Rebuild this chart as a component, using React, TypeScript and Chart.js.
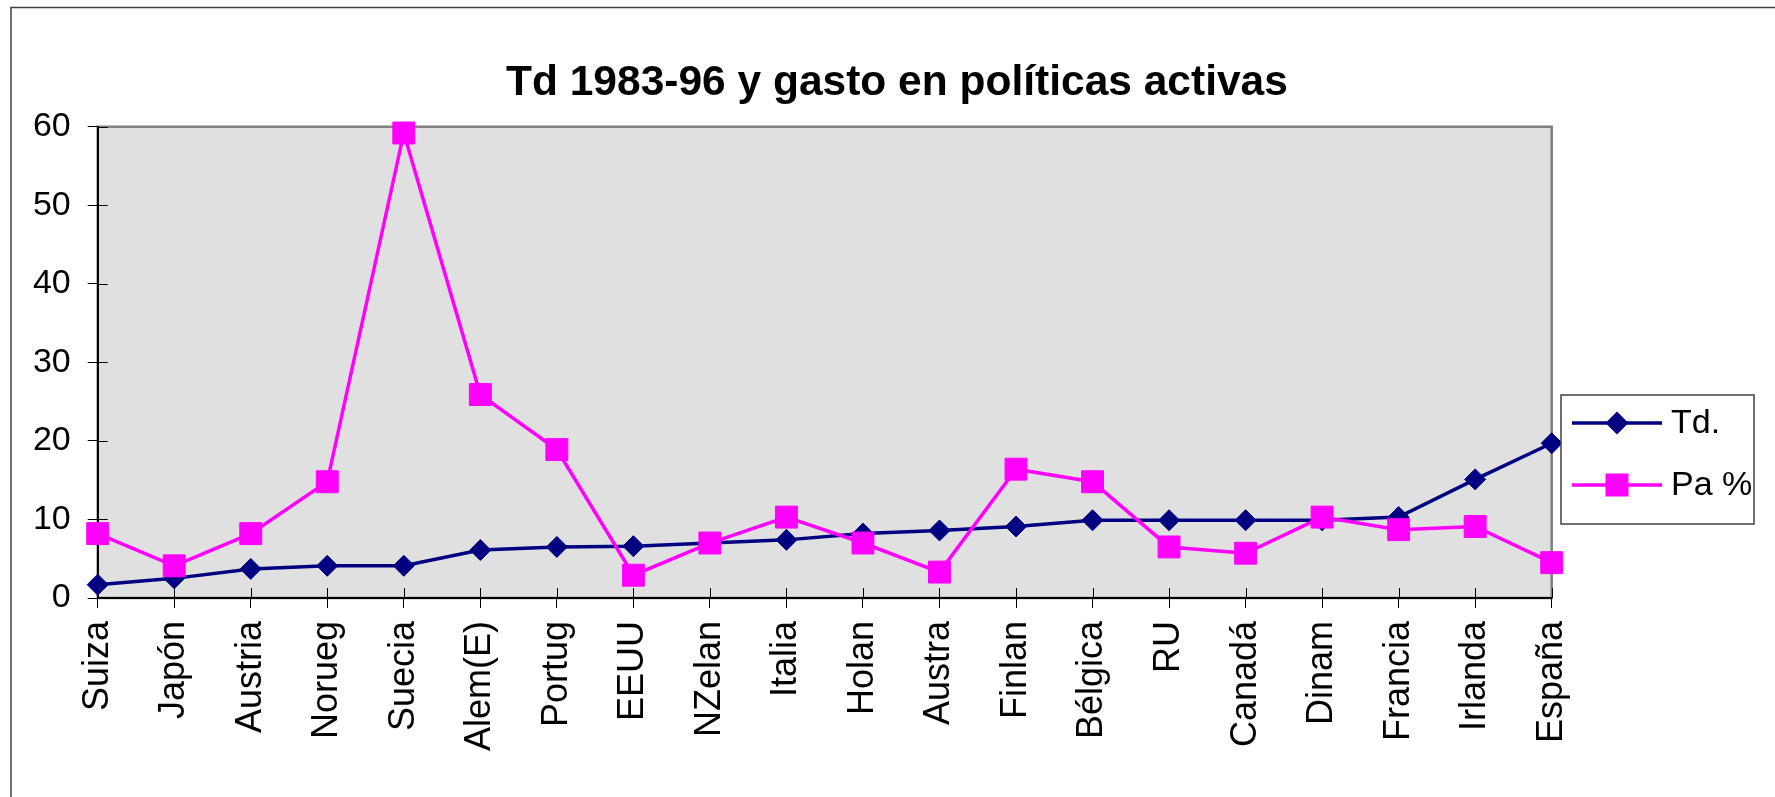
import React, { useEffect, useRef } from 'react';
import { Chart, registerables } from 'chart.js';

Chart.register(...registerables);

const categories = ['Suiza', 'Japón', 'Austria', 'Norueg', 'Suecia', 'Alem(E)', 'Portug', 'EEUU', 'NZelan', 'Italia', 'Holan', 'Austra', 'Finlan', 'Bélgica', 'RU', 'Canadá', 'Dinam', 'Francia', 'Irlanda', 'España'];
const tdValues = [1.7, 2.5, 3.7, 4.1, 4.1, 6.1, 6.5, 6.6, 7.0, 7.4, 8.2, 8.6, 9.1, 9.9, 9.9, 9.9, 9.9, 10.3, 15.1, 19.7];
const paValues = [8.2, 4.1, 8.2, 14.8, 59.2, 25.9, 18.9, 2.9, 7.0, 10.3, 7.0, 3.3, 16.4, 14.8, 6.5, 5.7, 10.3, 8.7, 9.1, 4.5];
const yTickValues = [0, 10, 20, 30, 40, 50, 60];
const seriesLabels = ['Td.', 'Pa %'];
const titleText = 'Td 1983-96 y gasto en políticas activas';

const FONT = '"Liberation Sans", Arial, sans-serif';
const W = 1775;
const H = 797;
const NAVY = '#000080';
const MAGENTA = '#FF00FF';

function drawMarker(ctx: CanvasRenderingContext2D, style: string, x: number, y: number, color: string) {
  ctx.fillStyle = color;
  ctx.beginPath();
  if (style === 'rectRot') {
    const r = 11.5;
    ctx.moveTo(x - r, y);
    ctx.lineTo(x, y - r);
    ctx.lineTo(x + r, y);
    ctx.lineTo(x, y + r);
    ctx.closePath();
  } else {
    const s = 11.5;
    ctx.rect(x - s, y - s, 2 * s, 2 * s);
  }
  ctx.fill();
}

const decorPlugin = {
  id: 'decor',
  beforeDraw(chart: any) {
    const { ctx, chartArea: a } = chart;
    ctx.save();
    ctx.fillStyle = '#ffffff';
    ctx.fillRect(0, 0, chart.width, chart.height);
    // outer frame
    ctx.strokeStyle = '#404040';
    ctx.lineWidth = 1.5;
    ctx.beginPath();
    ctx.moveTo(11, chart.height);
    ctx.lineTo(11, 7.5);
    ctx.lineTo(chart.width, 7.5);
    ctx.stroke();
    // plot background
    ctx.fillStyle = '#E0E0E0';
    ctx.fillRect(a.left, a.top, a.right - a.left, a.bottom - a.top);
    ctx.strokeStyle = '#808080';
    ctx.lineWidth = 2.5;
    ctx.strokeRect(a.left, a.top, a.right - a.left, a.bottom - a.top);
    // title
    ctx.fillStyle = '#000';
    ctx.font = 'bold 42.5px ' + FONT;
    ctx.textAlign = 'left';
    ctx.textBaseline = 'alphabetic';
    ctx.fillText(titleText, 506, 95);
    ctx.restore();
  },
  beforeDatasetsDraw(chart: any) {
    const { ctx, chartArea: a, scales } = chart;
    ctx.save();
    ctx.strokeStyle = '#000';
    ctx.lineWidth = 1;
    ctx.beginPath();
    yTickValues.forEach((v) => {
      const y = Math.round(scales.y.getPixelForValue(v)) + 0.5;
      ctx.moveTo(a.left, y);
      ctx.lineTo(a.left + 10, y);
    });
    categories.forEach((_, i) => {
      const x = Math.round(scales.x.getPixelForValue(i)) + 0.5;
      ctx.moveTo(x, a.bottom);
      ctx.lineTo(x, a.bottom - 10);
    });
    ctx.stroke();
    ctx.restore();
  },
  afterDraw(chart: any) {
    const { ctx } = chart;
    ctx.save();
    // legend box
    ctx.fillStyle = '#ffffff';
    ctx.fillRect(1561, 395, 193, 129);
    ctx.strokeStyle = '#404040';
    ctx.lineWidth = 1.5;
    ctx.strokeRect(1561, 395, 193, 129);
    const rows = [
      { y: 423, base: 433, ds: chart.data.datasets[0] },
      { y: 485, base: 495, ds: chart.data.datasets[1] },
    ];
    rows.forEach((r) => {
      ctx.strokeStyle = r.ds.borderColor;
      ctx.lineWidth = 3.5;
      ctx.beginPath();
      ctx.moveTo(1572, r.y);
      ctx.lineTo(1662, r.y);
      ctx.stroke();
      drawMarker(ctx, r.ds.pointStyle, 1617, r.y, r.ds.borderColor);
      ctx.fillStyle = '#000';
      ctx.font = '34px ' + FONT;
      ctx.textAlign = 'left';
      ctx.textBaseline = 'alphabetic';
      ctx.fillText(r.ds.label, 1671, r.base);
    });
    ctx.restore();
  },
};

export default function App() {
  const ref = useRef<HTMLCanvasElement | null>(null);

  useEffect(() => {
    if (!ref.current) return;
    const chart = new Chart(ref.current, {
      type: 'line',
      data: {
        labels: categories,
        datasets: [
          {
            label: seriesLabels[0],
            data: tdValues,
            borderColor: NAVY,
            backgroundColor: NAVY,
            borderWidth: 3.5,
            pointStyle: 'rectRot',
            pointRadius: 10.5,
            pointBorderWidth: 1,
            pointBackgroundColor: NAVY,
            pointBorderColor: NAVY,
            tension: 0,
            order: 2,
            clip: false,
          },
          {
            label: seriesLabels[1],
            data: paValues,
            borderColor: MAGENTA,
            backgroundColor: MAGENTA,
            borderWidth: 3.5,
            pointStyle: 'rect',
            pointRadius: 15.5,
            pointBorderWidth: 1,
            pointBackgroundColor: MAGENTA,
            pointBorderColor: MAGENTA,
            tension: 0,
            order: 1,
            clip: false,
          },
        ],
      },
      options: {
        responsive: false,
        animation: false,
        devicePixelRatio: 1,
        layout: { padding: { left: 0, top: 126.7, right: W - 1551.7, bottom: 0 } },
        plugins: {
          legend: { display: false },
          title: { display: false },
          tooltip: { enabled: false },
        },
        scales: {
          x: {
            type: 'category',
            offset: false,
            grid: { display: true, drawOnChartArea: false, drawTicks: true, tickLength: 10, color: '#000', lineWidth: 1 },
            border: { display: true, color: '#000', width: 2 },
            ticks: {
              autoSkip: false,
              maxRotation: 90,
              minRotation: 90,
              padding: 13,
              color: '#000',
              font: { family: FONT, size: 36 },
            },
            afterFit(scale: any) {
              scale.height = H - 598;
            },
          },
          y: {
            min: 0,
            max: 60,
            grid: { display: true, drawOnChartArea: false, drawTicks: true, tickLength: 10, color: '#000', lineWidth: 1 },
            border: { display: true, color: '#000', width: 2 },
            ticks: {
              stepSize: 10,
              padding: 17,
              color: '#000',
              font: { family: FONT, size: 34 },
            },
            afterFit(scale: any) {
              scale.width = 97.7;
            },
          },
        },
      },
      plugins: [decorPlugin],
    });
    return () => chart.destroy();
  }, []);

  return (
    <div style={{ position: 'fixed', left: 0, top: 0, width: W, height: H, background: '#fff' }}>
      <canvas ref={ref} width={W} height={H} style={{ display: 'block', width: W, height: H }} />
    </div>
  );
}
